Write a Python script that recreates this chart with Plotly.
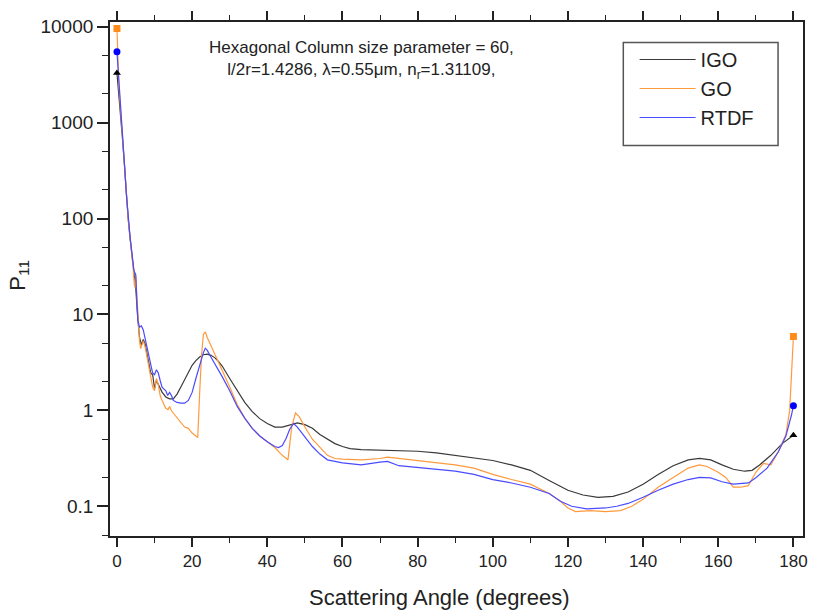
import plotly.graph_objects as go

# ---------------- data ----------------
igo_angle = [0, 0.5, 1, 1.5, 2, 2.5, 3, 3.5, 4, 4.5, 5, 5.5, 6, 6.5, 7, 7.5, 8, 8.5, 9, 9.5,
             10, 10.5, 11, 12, 13, 14, 15, 16, 17, 18, 19, 20, 21, 22, 23, 24, 25, 26, 27, 28,
             30, 32, 34, 36, 38, 40, 42, 44, 46, 48, 50, 52, 54, 56, 58, 60, 62, 65, 70, 75,
             80, 85, 90, 95, 100, 105, 110, 115, 120, 124, 128, 132, 136, 140, 144, 148, 152,
             155, 158, 161, 164, 167, 169, 171, 174, 177, 179, 180]
igo_p11 = [3300, 2000, 1200, 660, 360, 175, 98, 62, 41, 28, 19, 9.5, 5.8, 4.8, 5.5, 4.9, 3.8, 3.0, 2.45, 2.35,
           1.7, 2.05, 1.85, 1.55, 1.38, 1.32, 1.32, 1.48, 1.75, 2.1, 2.5, 2.95, 3.3, 3.6, 3.8, 3.85, 3.75, 3.55, 3.25, 2.9,
           2.15, 1.6, 1.21, 0.97, 0.82, 0.73, 0.67, 0.67, 0.71, 0.74, 0.71, 0.65, 0.56, 0.5, 0.45, 0.42, 0.4, 0.39, 0.385, 0.385,
           0.375, 0.36, 0.34, 0.32, 0.3, 0.27, 0.237, 0.186, 0.147, 0.131, 0.124, 0.127, 0.141, 0.17, 0.215, 0.265, 0.305,
           0.316, 0.305, 0.27, 0.243, 0.232, 0.237, 0.27, 0.34, 0.45, 0.52, 0.55]

go_angle = [0, 0.5, 1, 1.5, 2, 2.5, 3, 3.5, 4, 4.3, 4.6, 4.8, 5, 5.5, 6, 6.3, 6.7, 7, 7.5, 8, 8.5,
            9, 9.5, 10, 10.5, 11, 11.5, 12, 13, 13.6, 14, 14.5, 15, 16, 17, 18, 19, 20, 21, 21.5,
            22, 22.5, 23, 23.5, 24, 25, 26, 28, 30, 32, 34, 36, 38, 40, 42, 44, 45.5, 46.5, 47.5,
            48.5, 50, 52, 54, 56, 58, 60, 65, 70, 72, 75, 80, 85, 90, 95, 100, 105, 110, 115, 118,
            120, 122, 126, 130, 134, 137, 140, 144, 148, 152, 155, 157, 160, 162, 164, 166, 168,
            170, 172, 174, 176, 178, 179, 179.6, 180]
go_p11 = [9600, 2500, 1300, 660, 360, 175, 98, 62, 41, 31, 21, 19, 25, 10.6, 5.3, 4.4, 5.1, 5.3, 4.6, 3.6, 2.75,
          2.35, 1.75, 1.6, 2.15, 1.85, 1.43, 1.27, 1.05, 1.02, 1.1, 0.99, 0.94, 0.83, 0.76, 0.67, 0.65, 0.58, 0.54, 0.52,
          1.5, 3.7, 6.2, 6.6, 5.8, 4.75, 3.95, 2.7, 1.75, 1.15, 0.83, 0.65, 0.54, 0.47, 0.41, 0.34, 0.305, 0.67, 0.94,
          0.86, 0.67, 0.5, 0.41, 0.34, 0.315, 0.31, 0.305, 0.315, 0.325, 0.315, 0.295, 0.283, 0.27, 0.25, 0.215, 0.19, 0.17, 0.136, 0.113,
          0.096, 0.088, 0.09, 0.088, 0.09, 0.1, 0.118, 0.158, 0.2, 0.25, 0.27, 0.26, 0.226, 0.2, 0.158, 0.158, 0.164,
          0.226, 0.28, 0.27, 0.37, 0.56, 1.0, 2.65, 5.9]

rtdf_angle = [0, 0.5, 1, 1.5, 2, 2.5, 3, 3.5, 4, 4.5, 4.8, 5, 5.3, 5.6, 6, 6.5, 7, 7.5, 8, 8.5, 9,
              9.5, 10, 10.5, 11, 11.5, 12, 13, 13.5, 14, 14.5, 15, 16, 17, 18, 19, 20, 21, 22, 23,
              23.5, 24, 25, 26, 28, 30, 32, 34, 36, 38, 40, 42, 43, 44, 45, 46, 47, 48, 50, 52, 54,
              56, 60, 65, 70, 72, 75, 80, 85, 90, 95, 100, 105, 110, 115, 118, 121, 125, 130, 133,
              136, 140, 144, 148, 152, 155, 158, 161, 164, 168, 170, 173, 176, 178, 179.5, 180]
rtdf_p11 = [5500, 2600, 1350, 690, 370, 180, 101, 64, 43, 29, 27, 26, 13.8, 8.5, 7.4, 7.6, 6.9, 5.5, 4.45, 3.6, 3.0,
            2.45, 2.35, 2.65, 2.45, 2.05, 1.75, 1.6, 1.43, 1.54, 1.43, 1.27, 1.21, 1.19, 1.19, 1.27, 1.54, 2.15, 3.0, 4.0,
            4.45, 4.25, 3.6, 3.1, 2.25, 1.6, 1.1, 0.83, 0.65, 0.54, 0.47, 0.42, 0.41, 0.43, 0.51, 0.64, 0.73, 0.67, 0.53, 0.42, 0.35,
            0.305, 0.283, 0.27, 0.288, 0.294, 0.265, 0.254, 0.243, 0.232, 0.215, 0.19, 0.175, 0.158, 0.136, 0.113, 0.1, 0.094, 0.096, 0.1,
            0.107, 0.124, 0.147, 0.17, 0.19, 0.2, 0.198, 0.18, 0.17, 0.175, 0.198, 0.25, 0.37, 0.54, 0.9, 1.12]

series_names = ["IGO", "GO", "RTDF"]
y_tickvals = [0.1, 1, 10, 100, 1000, 10000]
y_ticktext = ["0.1", "1", "10", "100", "1000", "10000"]
x_tickvals = [0, 20, 40, 60, 80, 100, 120, 140, 160, 180]

# ---------------- figure ----------------
FONT = "Liberation Sans, Arial, sans-serif"
TXT = "#222"
line_colors = ["#3a3a3a", "#ff9a3c", "#4a4aff"]
marker_colors = ["#000000", "#ff8c1a", "#0000ff"]
marker_symbols = ["triangle-up", "square", "circle"]
data = [(igo_angle, igo_p11), (go_angle, go_p11), (rtdf_angle, rtdf_p11)]

fig = go.Figure()
for name, (xs, ys), lc in zip(series_names, data, line_colors):
    fig.add_trace(go.Scatter(x=xs, y=ys, mode="lines", name=name,
                             line=dict(color=lc, width=1.2)))
for name, (xs, ys), mc, ms in zip(series_names, data, marker_colors, marker_symbols):
    fig.add_trace(go.Scatter(x=[xs[0], xs[-1]], y=[ys[0], ys[-1]], mode="markers",
                             showlegend=False, name=name,
                             marker=dict(color=mc, symbol=ms, size=7)))

fig.update_layout(
    width=819, height=614,
    margin=dict(l=110, r=11, t=16, b=78),
    paper_bgcolor="white", plot_bgcolor="white",
    font=dict(family=FONT, color=TXT),
    showlegend=True,
    legend=dict(x=0.757, y=0.965, xanchor="left", yanchor="top",
                bgcolor="rgba(0,0,0,0)", borderwidth=0,
                font=dict(size=20, family=FONT, color=TXT),
                itemwidth=56, tracegroupgap=0),
    shapes=[dict(type="rect", xref="paper", yref="paper",
                 x0=0.7407, x1=0.964, y0=0.7596, y1=0.96,
                 line=dict(color="#555", width=1.5), fillcolor="rgba(0,0,0,0)", layer="above")],
    annotations=[
        dict(xref="paper", yref="paper", x=0.3625, y=(536 - 54) / 520, xanchor="center", yanchor="middle",
             showarrow=False, align="center",
             text="Hexagonal Column size parameter = 60,<br>l/2r=1.4286, λ=0.55μm, n<sub>r</sub>=1.31109,",
             font=dict(size=17, family=FONT, color=TXT)),
        dict(xref="paper", yref="paper", x=(442 - 110) / 698, y=(536 - 598) / 520,
             xanchor="center", yanchor="middle", showarrow=False,
             text="Scattering Angle (degrees)", font=dict(size=22, family=FONT, color=TXT)),
        dict(xref="paper", yref="paper", x=(18 - 110) / 698, y=(536 - 272) / 520,
             xanchor="center", yanchor="middle", showarrow=False, textangle=-90,
             text="P<sub>11</sub>", font=dict(size=22, family=FONT, color=TXT)),
    ],
)

fig.update_xaxes(
    range=[-1.85, 182.55], tickvals=x_tickvals,
    ticks="outside", ticklen=9, tickwidth=1.5, tickcolor=TXT,
    minor=dict(dtick=10, tick0=0, ticks="outside", ticklen=5, tickwidth=1.2, tickcolor=TXT),
    showline=True, linecolor=TXT, linewidth=1.8, mirror="allticks",
    showgrid=False, zeroline=False,
    tickfont=dict(size=17, family=FONT, color=TXT),
)
fig.update_yaxes(
    type="log", range=[-1.31, 4.05], tickvals=y_tickvals, ticktext=y_ticktext,
    ticks="outside", ticklen=11, tickwidth=1.5, tickcolor=TXT,
    minor=dict(ticks="outside", ticklen=6, tickwidth=1.2, tickcolor=TXT),
    showline=True, linecolor=TXT, linewidth=1.8, mirror=True,
    showgrid=False, zeroline=False,
    tickfont=dict(size=19, family=FONT, color=TXT),
)

fig.write_html("out.html")
